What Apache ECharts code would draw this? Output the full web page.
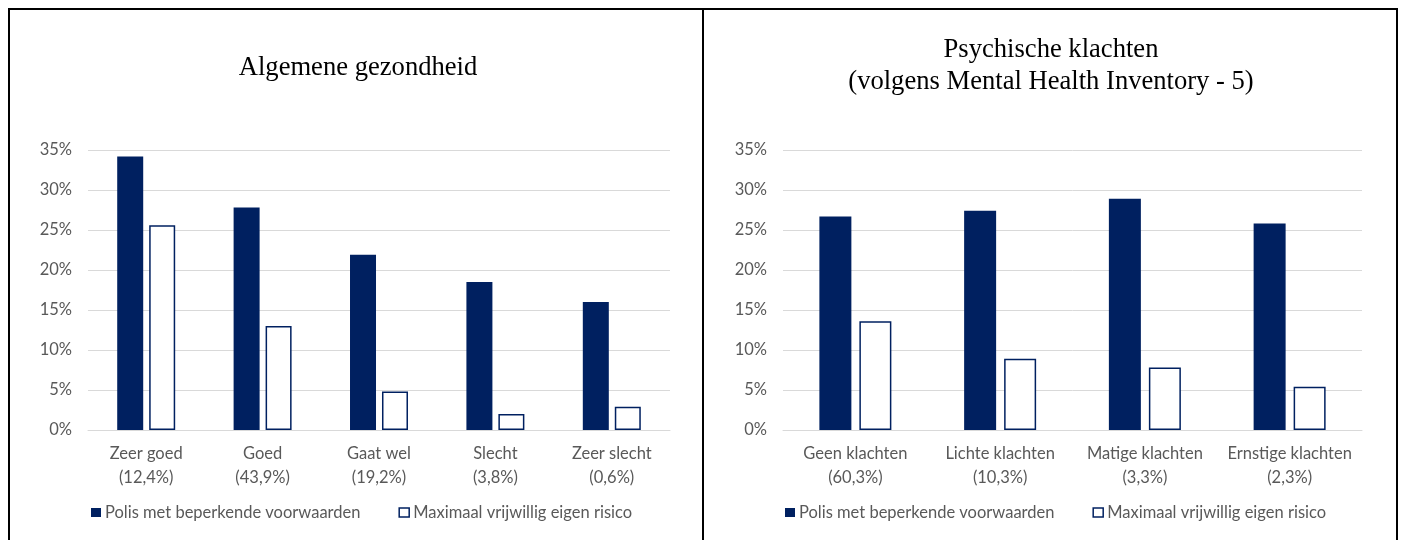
<!DOCTYPE html>
<html>
<head>
<meta charset="utf-8">
<script src="https://cdn.jsdelivr.net/npm/echarts@6/dist/echarts.min.js"></script>
<style>
html,body{margin:0;padding:0;background:#fff;}
#c{width:1404px;height:540px;}
</style>
</head>
<body>
<div id="c"></div>
<script>
// Data
var titleLeft = 'Algemene gezondheid';
var titleRight = 'Psychische klachten\n(volgens Mental Health Inventory - 5)';
var seriesNames = ['Polis met beperkende voorwaarden', 'Maximaal vrijwillig eigen risico'];

var catsLeft = ['Zeer goed\n(12,4%)', 'Goed\n(43,9%)', 'Gaat wel\n(19,2%)', 'Slecht\n(3,8%)', 'Zeer slecht\n(0,6%)'];
var polisLeft = [34.2, 27.8, 21.9, 18.5, 16.0];
var maxLeft = [25.6, 13.0, 4.8, 2.0, 2.9];

var catsRight = ['Geen klachten\n(60,3%)', 'Lichte klachten\n(10,3%)', 'Matige klachten\n(3,3%)', 'Ernstige klachten\n(2,3%)'];
var polisRight = [26.7, 27.4, 28.9, 25.8];
var maxRight = [13.6, 8.9, 7.8, 5.4];

var yTicks = {min: 0, max: 35, interval: 5};

var NAVY = '#002060';
var GRID = '#d9d9d9';
var TXT = '#595959';
var SANS = 'Lato';
var FS = 16.5;

function xAx(idx, cats) {
  return {
    type: 'category', gridIndex: idx, data: cats,
    axisLine: {lineStyle: {color: GRID, width: 1}},
    axisTick: {show: false},
    axisLabel: {color: TXT, fontSize: FS, fontFamily: SANS, lineHeight: 24, margin: 12, interval: 0}
  };
}
function yAx(idx) {
  return {
    type: 'value', gridIndex: idx, min: yTicks.min, max: yTicks.max, interval: yTicks.interval,
    axisLine: {show: false}, axisTick: {show: false},
    axisLabel: {color: TXT, fontSize: FS, fontFamily: SANS, margin: 16, formatter: '{value}%'},
    splitLine: {lineStyle: {color: GRID, width: 1}}
  };
}
function legendCfg(left) {
  return {
    left: left, top: 499, itemWidth: 10, itemHeight: 9, itemGap: 38, icon: 'rect',
    textStyle: {color: TXT, fontSize: FS, fontFamily: SANS, padding: [0, 0, 0, -1]},
    data: [
      {name: seriesNames[0], itemStyle: {color: NAVY, borderWidth: 0}},
      {name: seriesNames[1], itemStyle: {color: '#fff', borderColor: NAVY, borderWidth: 1.5}}
    ]
  };
}

var chart = echarts.init(document.getElementById('c'), null, {renderer: 'canvas'});
chart.setOption({
  animation: false,
  backgroundColor: '#fff',
  title: [
    {text: titleLeft, left: 353, textAlign: 'center', top: 47,
     textStyle: {fontFamily: 'Liberation Serif', fontSize: 26.6, fontWeight: 'normal', color: '#000', lineHeight: 32}},
    {text: titleRight, left: 1046, textAlign: 'center', top: 29,
     textStyle: {fontFamily: 'Liberation Serif', fontSize: 26.6, fontWeight: 'normal', color: '#000', lineHeight: 32}}
  ],
  legend: [legendCfg(86), legendCfg(780)],
  grid: [
    {left: 88, right: 734, top: 150, bottom: 110},
    {left: 783, right: 42, top: 150, bottom: 110}
  ],
  xAxis: [xAx(0, catsLeft), xAx(1, catsRight)],
  yAxis: [yAx(0), yAx(1)],
  series: [
    {name: seriesNames[0], type: 'bar', xAxisIndex: 0, yAxisIndex: 0, data: polisLeft,
     barWidth: 26, barGap: '23%', itemStyle: {color: NAVY}},
    {name: seriesNames[1], type: 'bar', xAxisIndex: 0, yAxisIndex: 0, data: maxLeft,
     barWidth: 26, barGap: '23%', itemStyle: {color: '#fff', borderColor: NAVY, borderWidth: 1.5}},
    {name: seriesNames[0], type: 'bar', xAxisIndex: 1, yAxisIndex: 1, data: polisRight,
     barWidth: 32, barGap: '25%', itemStyle: {color: NAVY}},
    {name: seriesNames[1], type: 'bar', xAxisIndex: 1, yAxisIndex: 1, data: maxRight,
     barWidth: 32, barGap: '25%', itemStyle: {color: '#fff', borderColor: NAVY, borderWidth: 1.5}}
  ],
  graphic: [
    {type: 'line', shape: {x1: 8, y1: 9, x2: 1398, y2: 9}, style: {stroke: '#000', lineWidth: 2}},
    {type: 'line', shape: {x1: 9, y1: 8, x2: 9, y2: 540}, style: {stroke: '#000', lineWidth: 2}},
    {type: 'line', shape: {x1: 703, y1: 8, x2: 703, y2: 540}, style: {stroke: '#000', lineWidth: 2}},
    {type: 'line', shape: {x1: 1397, y1: 8, x2: 1397, y2: 540}, style: {stroke: '#000', lineWidth: 2}}
  ]
});
</script>
</body>
</html>
